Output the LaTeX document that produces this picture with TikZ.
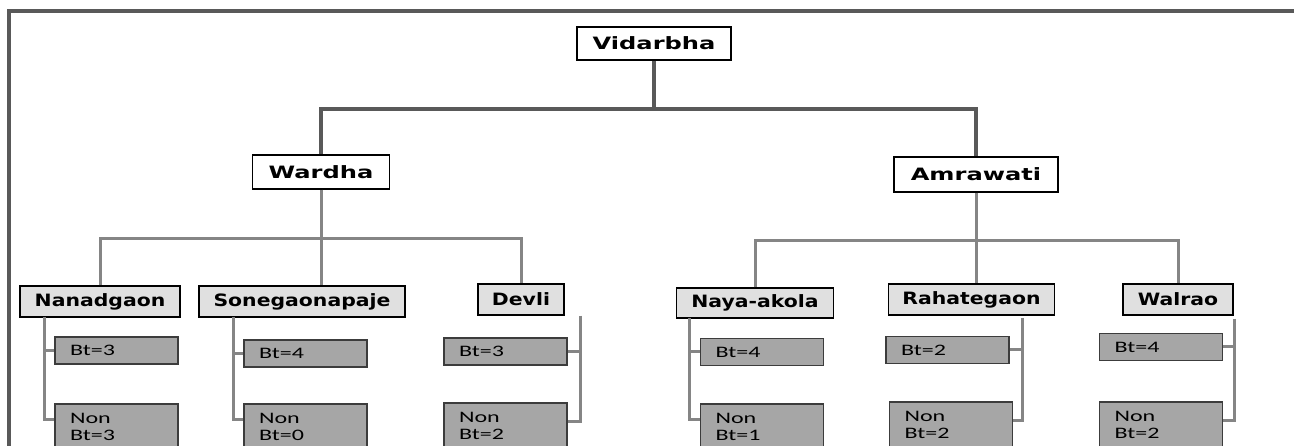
\documentclass[tikz,border=0pt]{standalone}
\usepackage{fontspec}
\usetikzlibrary{positioning,calc}
\newfontfamily\headfont[FakeStretch=1.42]{DejaVu Sans Bold}
\newfontfamily\villfont[FakeStretch=1.2]{DejaVu Sans Bold}
\newfontfamily\countfont[FakeStretch=1.5]{Carlito}
\definecolor{Tc}{HTML}{595959}
\definecolor{Bc}{HTML}{858585}
\definecolor{Vf}{HTML}{E0E0E0}
\definecolor{Cf}{HTML}{A6A6A6}
\definecolor{Ce}{HTML}{3C3C3C}
\tikzset{
  hbox/.style={draw=black, fill=white, line width=1.3pt, inner sep=0pt, font=\headfont\fontsize{17}{20}\selectfont},
  vbox/.style={draw=black, fill=Vf, line width=1.3pt, inner sep=0pt, minimum height=31pt, font=\villfont\fontsize{17}{20}\selectfont},
  cbox/.style={draw=Ce, fill=Cf, line width=1.3pt, inner xsep=15pt, inner ysep=0pt, minimum height=27pt, text width=93pt, align=left, font=\countfont\fontsize{16}{17}\selectfont},
  nbox/.style={cbox, minimum height=46pt},
  trunk/.style={draw=Tc, line width=3.2pt},
  twig/.style={draw=Bc, line width=3pt},
}

\begin{document}
\begin{tikzpicture}[x=1pt, y=-1pt]
  \useasboundingbox (0,0) rectangle (1294,446);
  \clip (0,0) rectangle (1294,446);
  \draw[trunk] (9,446) -- (9,11) -- (1294,11);
  % state and districts
  \node[hbox, minimum width=154pt, minimum height=33pt] (vid) at (654,43.5) {Vidarbha};
  \node[hbox, minimum width=137pt, minimum height=34pt] (war) at (321,172) {Wardha};
  \node[hbox, minimum width=164pt, minimum height=35pt] (amr) at (976,174.5) {Amrawati};
  \coordinate (vj) at (654,109);
  \draw[trunk] (vid) -- (vj);
  \draw[trunk] (war) |- (vj) -| (amr);
  % villages
  \node[vbox, minimum width=160pt] (nan) at (100,301.5) {Nanadgaon};
  \node[vbox, minimum width=206pt] (son) at (302,301.5) {Sonegaonapaje};
  \node[vbox, minimum width=86pt] (dev) at (521,299.5) {Devli};
  \node[vbox, minimum width=157pt, minimum height=30pt] (nay) at (755,303) {Naya-akola};
  \node[vbox, minimum width=166pt] (rah) at (971.5,299.5) {Rahategaon};
  \node[vbox, minimum width=110pt] (wal) at (1178,299.5) {Walrao};
  \coordinate (wj) at (321,239);
  \coordinate (aj) at (976,241);
  \draw[twig] (war.south) -- (war.south |- son.north);
  \draw[twig] (nan) |- (wj) -| (dev);
  \draw[twig] (amr.south) -- (amr.south |- rah.north);
  \draw[twig] (nay) |- (aj) -| (wal);
  % counts
  \node[cbox] (c1) at (116.5,350.5) {Bt=3};
  \node[nbox] (n1) at (116.5,427) {Non\\Bt=3};
  \node[cbox] (c2) at (305.5,353.5) {Bt=4};
  \node[nbox] (n2) at (305.5,427) {Non\\Bt=0};
  \node[cbox] (c3) at (505.5,351.5) {Bt=3};
  \node[nbox] (n3) at (505.5,426) {Non\\Bt=2};
  \node[cbox] (c4) at (762,352) {Bt=4};
  \node[nbox] (n4) at (762,427) {Non\\Bt=1};
  \node[cbox] (c5) at (947.5,350) {Bt=2};
  \node[nbox] (n5) at (951,425) {Non\\Bt=2};
  \node[cbox] (c6) at (1161,347) {Bt=4};
  \node[nbox] (n6) at (1161,425) {Non\\Bt=2};
  \coordinate (s1) at (44,317);
  \coordinate (s2) at (233,317);
  \coordinate (s3) at (580,316);
  \coordinate (s4) at (689,318);
  \coordinate (s5) at (1022,318);
  \coordinate (s6) at (1234,319);
  \foreach \i in {1,2,4} {
    \draw[twig] (s\i) |- (c\i.west);
    \draw[twig] (s\i) |- ([yshift=-16pt]n\i.north west);
  }
  \foreach \i in {3,5,6} {
    \draw[twig] (s\i) |- (c\i.east);
    \draw[twig] (s\i) |- ([yshift=-19pt]n\i.north east);
  }
\end{tikzpicture}
\end{document}
